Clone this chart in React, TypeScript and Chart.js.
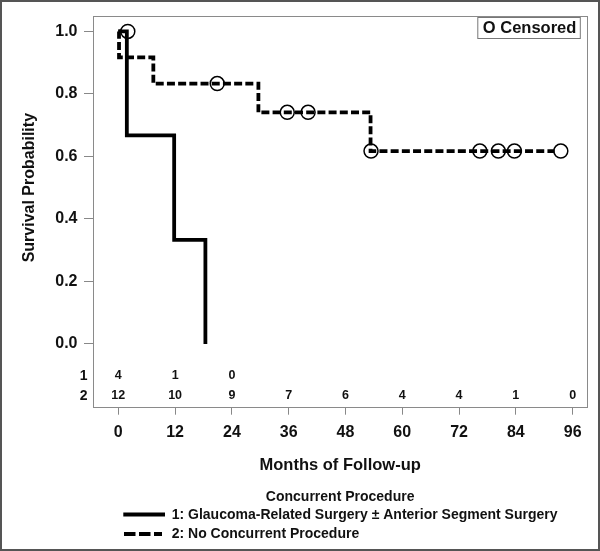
import React, { useEffect, useRef } from "react";
import { Chart, registerables } from "chart.js";

Chart.register(...registerables);

const FONT = "'Liberation Sans', Arial, sans-serif";

// Axis ticks
const xTicks = [0, 12, 24, 36, 48, 60, 72, 84, 96];
const yTicks = [0, 0.2, 0.4, 0.6, 0.8, 1.0];

// Group 1: Glaucoma-Related Surgery ± Anterior Segment Surgery (step points: time, survival after event)
const group1Times = [0, 1.8, 11.8, 18.4];
const group1Surv = [1.0, 0.667, 0.333, 0.0];
const group1CensorTimes = [2.0];
const group1CensorSurv = [1.0];

// Group 2: No Concurrent Procedure
const group2Times = [0, 0.15, 7.4, 29.6, 53.3, 92.2];
const group2Surv = [1.0, 0.917, 0.833, 0.741, 0.617, 0.617];
const group2CensorTimes = [20.9, 35.7, 40.1, 53.4, 76.4, 80.3, 83.7, 93.5];
const group2CensorSurv = [0.833, 0.741, 0.741, 0.617, 0.617, 0.617, 0.617, 0.617];

// Numbers at risk
const atRiskTimes1 = [0, 12, 24];
const atRisk1 = [4, 1, 0];
const atRiskTimes2 = [0, 12, 24, 36, 48, 60, 72, 84, 96];
const atRisk2 = [12, 10, 9, 7, 6, 4, 4, 1, 0];

const xTitle = "Months of Follow-up";
const yTitle = "Survival Probability";
const legendTitle = "Concurrent Procedure";
const legendLabels = [
  "1: Glaucoma-Related Surgery \u00B1 Anterior Segment Surgery",
  "2: No Concurrent Procedure",
];
const censoredLabel = "O Censored";

const zip = (xs: number[], ys: number[]) => xs.map((x, i) => ({ x, y: ys[i] }));

const decorPlugin = {
  id: "decor",
  beforeDatasetsDraw(chart: any) {
    const { ctx, chartArea } = chart;
    const { left, top, right, bottom } = chartArea;
    ctx.save();
    ctx.strokeStyle = "#8a8a8a";
    ctx.lineWidth = 1;
    ctx.strokeRect(Math.round(left) + 0.5, Math.round(top) + 0.5, Math.round(right - left), Math.round(bottom - top));
    ctx.restore();
  },
  afterDraw(chart: any) {
    const { ctx, chartArea, scales } = chart;
    const { left, right } = chartArea;
    const xs = scales.x;
    const ys = scales.y;
    ctx.save();
    ctx.fillStyle = "#111";
    ctx.textBaseline = "middle";

    // Censored box
    ctx.strokeStyle = "#777";
    ctx.lineWidth = 1;
    ctx.strokeRect(right - 109.5, 17.5, 102.5, 21);
    ctx.font = `bold 16.5px ${FONT}`;
    ctx.textAlign = "left";
    ctx.fillText(censoredLabel, right - 104.5, 28.5);

    // At-risk table
    ctx.font = `bold 14px ${FONT}`;
    ctx.textAlign = "right";
    ctx.fillText("1", left - 5.5, 375.7);
    ctx.fillText("2", left - 5.5, 395.7);
    ctx.font = `bold 12.5px ${FONT}`;
    ctx.textAlign = "center";
    atRiskTimes1.forEach((t, i) => ctx.fillText(String(atRisk1[i]), xs.getPixelForValue(t), 375.7));
    atRiskTimes2.forEach((t, i) => ctx.fillText(String(atRisk2[i]), xs.getPixelForValue(t), 395.7));

    // Axis titles
    ctx.font = `bold 16.5px ${FONT}`;
    ctx.textAlign = "center";
    ctx.fillText(xTitle, (left + right) / 2, 465);
    ctx.save();
    ctx.translate(29.5, (ys.getPixelForValue(0) + ys.getPixelForValue(1)) / 2);
    ctx.rotate(-Math.PI / 2);
    ctx.font = `bold 16px ${FONT}`;
    ctx.fillText(yTitle, 0, 0);
    ctx.restore();

    // Legend
    ctx.font = `bold 14px ${FONT}`;
    ctx.textAlign = "center";
    ctx.fillText(legendTitle, (left + right) / 2, 497.5);
    ctx.textAlign = "left";
    ctx.strokeStyle = "#000";
    ctx.lineWidth = 4;
    ctx.lineCap = "butt";
    ctx.beginPath();
    ctx.moveTo(123.3, 514.5);
    ctx.lineTo(165, 514.5);
    ctx.stroke();
    ctx.setLineDash([11.5, 3.5]);
    ctx.beginPath();
    ctx.moveTo(124, 534);
    ctx.lineTo(162, 534);
    ctx.stroke();
    ctx.setLineDash([]);
    ctx.fillText(legendLabels[0], 171.7, 515);
    ctx.fillText(legendLabels[1], 171.7, 534);

    // Outer border
    ctx.strokeStyle = "#555";
    ctx.lineWidth = 2;
    ctx.strokeRect(1, 1, 598, 549);
    ctx.restore();
  },
};

export default function App() {
  const ref = useRef<HTMLCanvasElement | null>(null);
  useEffect(() => {
    if (!ref.current) return;
    const lineCommon = {
      type: "line" as const,
      borderColor: "#000",
      pointRadius: 0,
      stepped: true,
      fill: false,
      borderCapStyle: "butt",
      borderJoinStyle: "miter",
    };
    const censorCommon = {
      type: "line" as const,
      showLine: false,
      pointRadius: 7,
      pointStyle: "circle",
      pointBackgroundColor: "rgba(0,0,0,0)",
      pointBorderColor: "#000",
      pointBorderWidth: 1.5,
      borderColor: "#000",
    };
    const chart = new Chart(ref.current, {
      type: "line",
      data: {
        datasets: [
          { ...lineCommon, data: zip(group2Times, group2Surv), borderWidth: 3.8, borderDash: [8, 3.2] },
          { ...lineCommon, data: zip(group1Times, group1Surv), borderWidth: 3.8 },
          { ...censorCommon, data: zip(group1CensorTimes, group1CensorSurv) },
          { ...censorCommon, data: zip(group2CensorTimes, group2CensorSurv) },
        ] as any,
      },
      options: {
        responsive: false,
        animation: false,
        events: [],
        layout: { padding: { left: 0, top: 11.7, right: 12.7, bottom: 0 } },
        plugins: { legend: { display: false }, tooltip: { enabled: false }, title: { display: false } },
        scales: {
          x: {
            type: "linear",
            min: -5.35,
            max: 99.1,
            afterBuildTicks: (s: any) => {
              s.ticks = xTicks.map((v) => ({ value: v }));
            },
            afterFit: (s: any) => {
              s.height = 144.3;
            },
            grid: { drawOnChartArea: false, drawTicks: true, tickLength: 8, color: "#888", lineWidth: 1 },
            border: { display: false },
            ticks: {
              font: { family: FONT, size: 16, weight: "bold" },
              color: "#111",
              padding: 8,
              autoSkip: false,
              maxRotation: 0,
              callback: (v: any) => String(v),
            },
          },
          y: {
            type: "linear",
            min: -0.201,
            max: 1.049,
            afterBuildTicks: (s: any) => {
              s.ticks = yTicks.map((v) => ({ value: v }));
            },
            afterFit: (s: any) => {
              s.width = 93;
            },
            grid: { drawOnChartArea: false, drawTicks: true, tickLength: 9, color: "#888", lineWidth: 1 },
            border: { display: false },
            ticks: {
              font: { family: FONT, size: 16, weight: "bold" },
              color: "#111",
              padding: 6.5,
              callback: (v: any) => Number(v).toFixed(1),
            },
          },
        },
      } as any,
      plugins: [decorPlugin],
    });
    return () => chart.destroy();
  }, []);
  return (
    <div style={{ position: "fixed", left: 0, top: 0, width: 600, height: 551, background: "#fff" }}>
      <canvas ref={ref} width={600} height={551} style={{ width: 600, height: 551, display: "block" }} />
    </div>
  );
}
